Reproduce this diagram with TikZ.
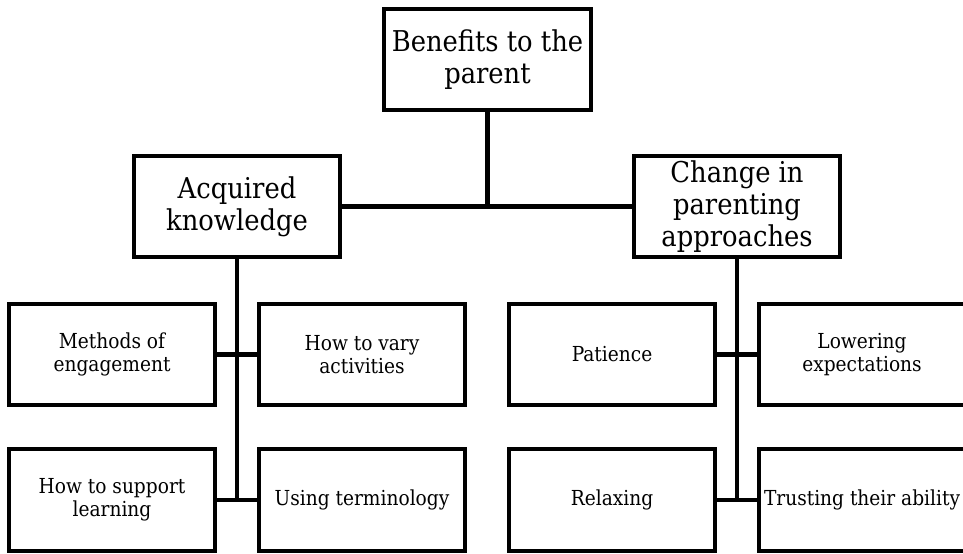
\documentclass[tikz,border=0pt]{standalone}
\usepackage{fontspec}
\setmainfont{DejaVu Serif Condensed}
\begin{document}
\begin{tikzpicture}[x=0.75pt,y=-0.75pt,
  box/.style={draw, line width=3.2pt, minimum width=155pt, minimum height=76pt, align=center, inner sep=0pt},
  big/.style={font=\fontsize{21.5}{24}\selectfont},
  small/.style={font=\fontsize{15.5}{17.5}\selectfont},
  link/.style={line width=3.2pt}]
\useasboundingbox (0,0) rectangle (963,553);
\clip (0,0) rectangle (963,553);
\node[box,big] (top) at (487.5,59.5) {Benefits to the\\parent};
\node[box,big] (acq) at (237,206.5) {Acquired\\knowledge};
\node[box,big] (chg) at (737,206.5) {Change in\\parenting\\approaches};
\node[box,small] (a1) at (112,354.5) {Methods of\\engagement};
\node[box,small] (a2) at (362,354.5) {How to vary\\activities};
\node[box,small] (a3) at (112,500) {How to support\\learning};
\node[box,small] (a4) at (362,500) {Using terminology};
\node[box,small] (c1) at (612,354.5) {Patience};
\node[box,small] (c2) at (862,354.5) {Lowering\\expectations};
\node[box,small] (c3) at (612,500) {Relaxing};
\node[box,small] (c4) at (862,500) {Trusting their ability};
\coordinate (j) at (top.south |- acq.east);
\draw[link] (top.south) -- (j);
\draw[link] (acq.east) -- (chg.west);
\coordinate (ja) at (acq.south |- a3.east);
\coordinate (jc) at (chg.south |- c3.east);
\draw[link] (acq.south) -- (ja);
\draw[link] (chg.south) -- (jc);
\draw[link] (a1.east) -- (a2.west);
\draw[link] (a3.east) -- (a4.west);
\draw[link] (c1.east) -- (c2.west);
\draw[link] (c3.east) -- (c4.west);
\end{tikzpicture}
\end{document}
